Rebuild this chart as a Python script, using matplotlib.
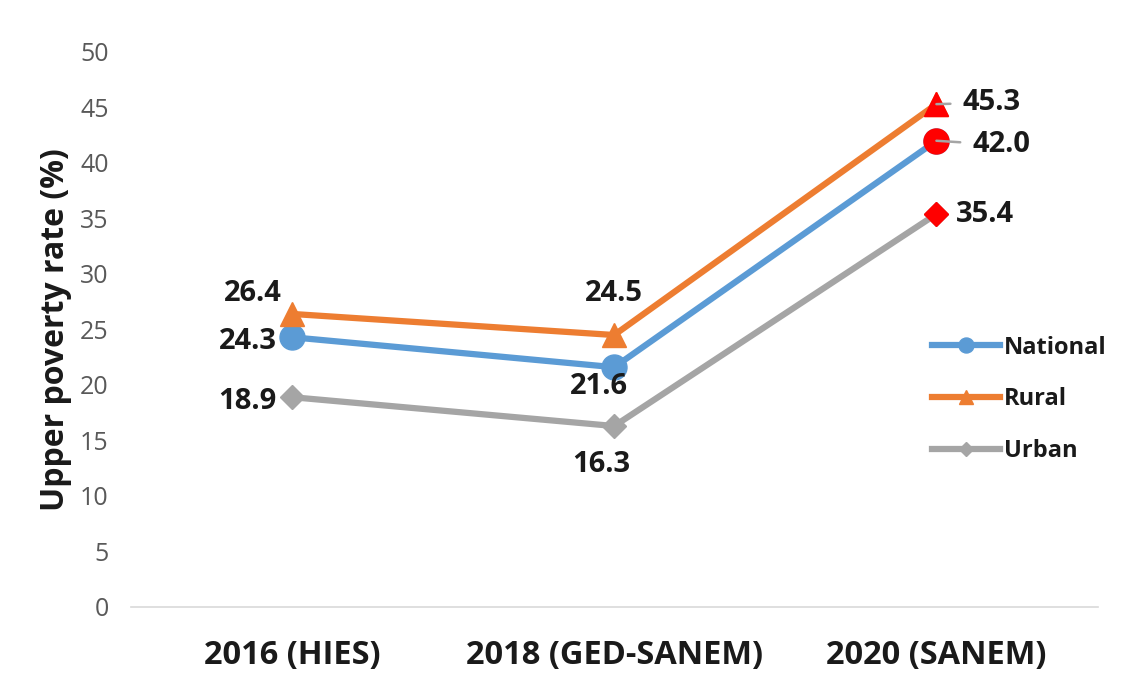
import matplotlib.pyplot as plt
import numpy as np

categories = ["2016 (HIES)", "2018 (GED-SANEM)", "2020 (SANEM)"]
national = [24.3, 21.6, 42.0]
rural = [26.4, 24.5, 45.3]
urban = [18.9, 16.3, 35.4]
yticks = [0, 5, 10, 15, 20, 25, 30, 35, 40, 45, 50]

plt.rcParams['font.family'] = ['Open Sans', 'DejaVu Sans']

fig = plt.figure(figsize=(11.28, 6.81), dpi=100)
ax = fig.add_axes([0.116, 0.1087, 0.857, 0.815])

x = np.arange(len(categories))
ax.plot(x, national, color='#5B9BD5', lw=4.5, marker='o', ms=18, label='National', zorder=3)
ax.plot(x, rural, color='#ED7D31', lw=4.5, marker='^', ms=17, label='Rural', zorder=3)
ax.plot(x, urban, color='#A5A5A5', lw=4.5, marker='D', ms=12, label='Urban', zorder=3)

# 2020 points drawn in red
ax.plot(x[2], national[2], 'o', color='red', ms=18, zorder=4)
ax.plot(x[2], rural[2], '^', color='red', ms=17, zorder=4)
ax.plot(x[2], urban[2], 'D', color='red', ms=12, zorder=4)

lab = dict(fontsize=21, fontweight='bold', color='#1a1a1a', zorder=5)
# 2016
ax.annotate(f"{rural[0]:.1f}", (x[0], rural[0]), xytext=(-28, 15), textcoords='offset points', ha='center', va='center', **lab)
ax.annotate(f"{national[0]:.1f}", (x[0], national[0]), xytext=(-32, -3), textcoords='offset points', ha='center', va='center', **lab)
ax.annotate(f"{urban[0]:.1f}", (x[0], urban[0]), xytext=(-32, -3), textcoords='offset points', ha='center', va='center', **lab)
# 2018
ax.annotate(f"{rural[1]:.1f}", (x[1], rural[1]), xytext=(0, 30), textcoords='offset points', ha='center', va='center', **lab)
ax.annotate(f"{national[1]:.1f}", (x[1], national[1]), xytext=(-11, -14), textcoords='offset points', ha='center', va='center', **lab)
ax.annotate(f"{urban[1]:.1f}", (x[1], urban[1]), xytext=(-9, -28), textcoords='offset points', ha='center', va='center', **lab)
# 2020, two with short leader lines
for val, dx, dy in [(rural[2], 40, 1), (national[2], 47, -3)]:
    ax.annotate(f"{val:.1f}", (x[2], val), xytext=(dx, dy), textcoords='offset points', ha='center', va='center',
                arrowprops=dict(arrowstyle='-', color='#A5A5A5', lw=1.8, shrinkA=7, shrinkB=0), **lab)
ax.annotate(f"{urban[2]:.1f}", (x[2], urban[2]), xytext=(35, 0), textcoords='offset points', ha='center', va='center', **lab)

ax.set_xlim(-0.5, 2.5)
ax.set_ylim(0, 50)
ax.set_yticks(yticks)
ax.set_xticks(x)
ax.set_xticklabels(categories, fontsize=23.5, fontweight='bold', color='#1a1a1a')
ax.tick_params(axis='y', labelsize=18, labelcolor='#595959', length=0, pad=16)
ax.tick_params(axis='x', length=0, pad=23)
ax.set_ylabel("Upper poverty rate (%)", fontsize=23, fontweight='bold', color='#1a1a1a', labelpad=6)

for s in ['top', 'right', 'left']:
    ax.spines[s].set_visible(False)
ax.spines['bottom'].set_color('#D9D9D9')
ax.spines['bottom'].set_linewidth(1.2)

leg = ax.legend(loc='upper left', bbox_to_anchor=(0.826, 0.507), bbox_transform=fig.transFigure,
                frameon=False, prop=dict(weight='bold', size=17), handlelength=2.9,
                handletextpad=0.15, labelspacing=1.17, markerscale=0.6,
                borderaxespad=0, borderpad=0)
for t in leg.get_texts():
    t.set_color('#1a1a1a')

fig.savefig("out.png", dpi=100)
